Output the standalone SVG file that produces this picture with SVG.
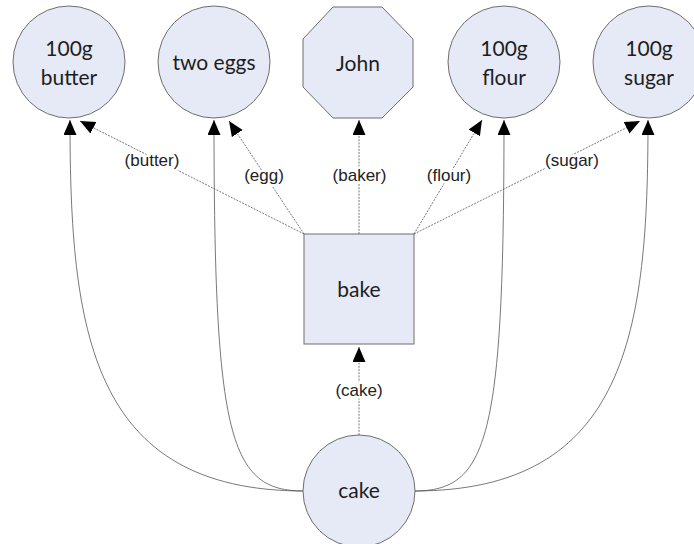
<svg xmlns="http://www.w3.org/2000/svg" width="694" height="544" viewBox="0 0 694 544">
<style>
.node{fill:#e6eaf6;stroke:#6e6e6e;stroke-width:1}
.nt{font-family:Lato,"Open Sans",sans-serif;font-size:21px;fill:#1e1e1e;text-anchor:middle}
.edge{fill:none;stroke:#555;stroke-width:0.8}
.dot{stroke-dasharray:2,1.2}
.lbl{font-family:"Liberation Sans",Arial,sans-serif;font-size:17px;fill:#222;text-anchor:middle;stroke:#fff;stroke-width:5;paint-order:stroke;stroke-linejoin:round}
</style>
<defs>
<marker id="ah" markerUnits="userSpaceOnUse" markerWidth="16" markerHeight="14" refX="15" refY="6.5" orient="auto">
<path d="M0,0 L15,6.5 L0,13 Z" fill="#000"/>
</marker>
</defs>
<rect width="694" height="544" fill="#fff"/>
<g id="connectors">
<path class="edge" d="M304,491 C90,491 70,330 70,120" marker-end="url(#ah)"/>
<path class="edge" d="M304,491 C230,491 214,440 214,120" marker-end="url(#ah)"/>
<path class="edge" d="M414,491 C488,491 504,440 504,120" marker-end="url(#ah)"/>
<path class="edge" d="M414,491 C628,491 648,330 648,120" marker-end="url(#ah)"/>
<path class="edge dot" d="M304,234 L80,121" marker-end="url(#ah)"/>
<path class="edge dot" d="M304,234 L229,121" marker-end="url(#ah)"/>
<path class="edge dot" d="M359,234 L359,120" marker-end="url(#ah)"/>
<path class="edge dot" d="M414,234 L482,120" marker-end="url(#ah)"/>
<path class="edge dot" d="M414,234 L640,121" marker-end="url(#ah)"/>
<path class="edge dot" d="M359,435 L359,347" marker-end="url(#ah)"/>
<text class="lbl" x="152" y="166">(butter)</text>
<text class="lbl" x="264" y="181">(egg)</text>
<text class="lbl" x="359.5" y="181">(baker)</text>
<text class="lbl" x="449" y="181">(flour)</text>
<text class="lbl" x="572" y="166">(sugar)</text>
<text class="lbl" x="359" y="396">(cake)</text>
</g>
<g id="butter">
<circle class="node" cx="69" cy="62" r="56"/>
<text class="nt" x="69" y="56">100g</text>
<text class="nt" x="69" y="85">butter</text>
</g>
<g id="eggs">
<circle class="node" cx="214" cy="62" r="56"/>
<text class="nt" x="214" y="70">two eggs</text>
</g>
<g id="john">
<polygon class="node" points="333,7 382,7 413,39 413,87 382,118 333,118 303,87 303,39"/>
<text class="nt" x="358" y="71">John</text>
</g>
<g id="flour">
<circle class="node" cx="504" cy="62" r="56"/>
<text class="nt" x="504" y="56">100g</text>
<text class="nt" x="504" y="85">flour</text>
</g>
<g id="sugar">
<circle class="node" cx="649" cy="62" r="56"/>
<text class="nt" x="649" y="56">100g</text>
<text class="nt" x="649" y="85">sugar</text>
</g>
<g id="bake">
<rect class="node" x="304" y="234" width="110" height="110"/>
<text class="nt" x="359" y="297">bake</text>
</g>
<g id="cake">
<circle class="node" cx="359" cy="491" r="56"/>
<text class="nt" x="359" y="498">cake</text>
</g>
</svg>
